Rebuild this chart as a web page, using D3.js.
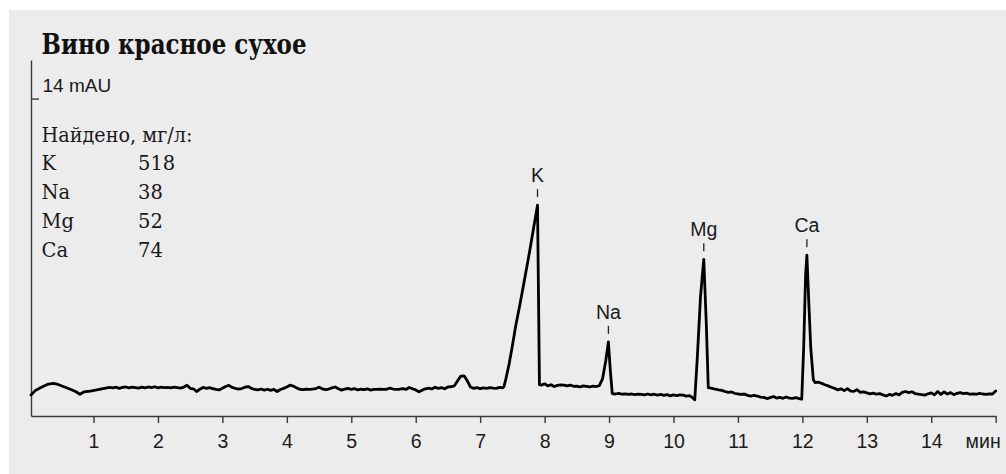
<!DOCTYPE html>
<html>
<head>
<meta charset="utf-8">
<script src="https://cdn.jsdelivr.net/npm/d3@7"></script>
<style>
  html, body { margin: 0; padding: 0; background: #ffffff; }
  svg { display: block; }
</style>
</head>
<body>
<svg id="chart" width="1006" height="474"></svg>
<script>
// ---- Data ----
const chartTitle = "Вино красное сухое";
const yUnitLabel = "14 mAU";
const yMarkValue = 14;              // mAU
const xUnitLabel = "мин";
const xTickValues = [1, 2, 3, 4, 5, 6, 7, 8, 9, 10, 11, 12, 13, 14, 15];
const xTickLabels = ["1", "2", "3", "4", "5", "6", "7", "8", "9", "10", "11", "12", "13", "14", ""];

const tableHeader = "Найдено, мг/л:";
const foundElements = ["K", "Na", "Mg", "Ca"];
const foundValues = [518, 38, 52, 74];

const peakNames = ["K", "Na", "Mg", "Ca"];
const peakTimes = [7.89, 8.99, 10.47, 12.07];     // min
const peakHeights = [9.30, 3.27, 6.91, 7.09];     // mAU

// chromatogram trace: [time (min), signal (mAU)]
const chromatogram = [
  [0.03,0.93],[0.10,1.13],[0.20,1.28],[0.30,1.41],[0.38,1.44],[0.45,1.39],[0.55,1.28],[0.65,1.17],
  [0.72,1.08],[0.79,0.96],[0.85,1.06],[0.95,1.10],[1.05,1.15],[1.15,1.21],[1.25,1.26],
  [1.30,1.24],[1.35,1.27],[1.40,1.22],[1.45,1.26],[1.50,1.28],[1.55,1.24],[1.60,1.27],[1.65,1.25],
  [1.70,1.23],[1.75,1.27],[1.80,1.24],[1.85,1.28],[1.90,1.25],[1.95,1.29],[2.00,1.24],[2.05,1.27],
  [2.10,1.25],[2.15,1.26],[2.20,1.24],[2.25,1.27],[2.30,1.25],[2.35,1.23],[2.40,1.27],[2.45,1.36],
  [2.50,1.22],[2.55,1.20],[2.60,1.08],[2.65,1.18],[2.70,1.26],[2.75,1.22],[2.80,1.25],[2.85,1.21],
  [2.90,1.17],[2.95,1.15],[3.00,1.22],[3.05,1.30],[3.10,1.35],[3.15,1.26],[3.20,1.22],[3.25,1.19],
  [3.30,1.21],[3.35,1.27],[3.40,1.30],[3.45,1.22],[3.50,1.17],[3.55,1.15],[3.60,1.19],[3.65,1.14],
  [3.70,1.18],[3.75,1.13],[3.80,1.17],[3.85,1.08],[3.90,1.17],[3.95,1.22],[4.00,1.28],[4.05,1.36],
  [4.10,1.32],[4.15,1.24],[4.20,1.18],[4.25,1.16],[4.30,1.18],[4.35,1.17],[4.40,1.19],[4.45,1.21],
  [4.50,1.27],[4.55,1.20],[4.60,1.16],[4.65,1.19],[4.70,1.24],[4.75,1.28],[4.80,1.20],[4.85,1.14],
  [4.90,1.19],[4.95,1.22],[5.00,1.17],[5.05,1.21],[5.10,1.15],[5.15,1.18],[5.20,1.16],[5.25,1.20],
  [5.30,1.14],[5.35,1.17],[5.40,1.17],[5.45,1.18],[5.50,1.17],[5.55,1.18],[5.60,1.23],[5.65,1.19],
  [5.70,1.17],[5.75,1.18],[5.80,1.21],[5.85,1.17],[5.90,1.26],[5.95,1.20],[6.00,1.15],[6.05,1.07],
  [6.10,1.14],[6.15,1.20],[6.20,1.23],[6.25,1.19],[6.30,1.27],[6.35,1.22],[6.40,1.25],[6.45,1.20],
  [6.50,1.28],[6.55,1.29],[6.60,1.33],[6.65,1.55],[6.70,1.76],[6.75,1.77],[6.80,1.55],[6.85,1.28],
  [6.90,1.22],[6.95,1.25],[7.00,1.21],[7.05,1.24],[7.10,1.22],[7.15,1.25],[7.20,1.23],[7.25,1.22],
  [7.30,1.26],[7.35,1.24],[7.37,1.30],[7.40,1.65],[7.45,2.30],[7.50,3.10],[7.55,3.95],[7.62,4.96],
  [7.70,6.20],[7.77,7.30],[7.83,8.30],[7.89,9.30],[7.92,1.38],[7.95,1.36],[8.00,1.42],[8.05,1.33],
  [8.10,1.38],[8.15,1.30],[8.20,1.35],[8.25,1.37],[8.30,1.36],[8.35,1.33],[8.40,1.36],[8.45,1.31],
  [8.50,1.32],[8.55,1.28],[8.60,1.33],[8.65,1.31],[8.70,1.28],[8.75,1.32],[8.80,1.30],[8.85,1.34],
  [8.90,1.65],[8.95,2.45],[8.99,3.27],[9.02,2.00],[9.05,0.99],[9.10,0.97],[9.15,1.00],[9.20,0.96],
  [9.25,0.98],[9.30,0.95],[9.35,0.97],[9.40,0.94],[9.45,0.96],[9.50,0.95],[9.55,0.93],[9.60,0.97],
  [9.65,0.93],[9.70,0.96],[9.75,0.92],[9.80,0.95],[9.85,0.91],[9.90,0.94],[9.95,0.89],[10.00,0.93],
  [10.05,0.90],[10.10,0.93],[10.15,0.92],[10.20,0.88],[10.25,0.90],[10.30,0.80],[10.33,0.72],[10.37,2.60],
  [10.42,5.30],[10.47,6.91],[10.51,4.00],[10.54,1.25],[10.60,1.22],[10.65,1.18],[10.70,1.15],[10.75,1.13],
  [10.80,1.08],[10.85,1.04],[10.90,1.06],[10.95,1.00],[11.00,0.97],[11.05,0.95],[11.10,0.97],[11.15,0.91],
  [11.20,0.88],[11.25,0.91],[11.30,0.88],[11.35,0.83],[11.40,0.82],[11.45,0.77],[11.50,0.81],[11.55,0.86],
  [11.60,0.79],[11.65,0.82],[11.70,0.78],[11.75,0.84],[11.80,0.79],[11.85,0.78],[11.90,0.81],[11.95,0.77],
  [11.99,0.74],[12.02,3.00],[12.05,6.20],[12.07,7.09],[12.10,5.00],[12.13,3.00],[12.17,1.60],[12.20,1.47],
  [12.25,1.49],[12.30,1.44],[12.35,1.38],[12.40,1.33],[12.45,1.27],[12.50,1.22],[12.55,1.15],[12.60,1.20],
  [12.65,1.12],[12.70,1.21],[12.75,1.10],[12.80,1.09],[12.85,1.16],[12.90,1.04],[12.95,1.06],[13.00,1.02],
  [13.05,0.98],[13.10,1.01],[13.15,0.96],[13.20,0.99],[13.25,0.93],[13.30,0.88],[13.35,0.95],[13.40,0.91],
  [13.45,0.99],[13.50,0.93],[13.55,1.04],[13.60,1.08],[13.65,1.03],[13.70,1.07],[13.75,0.99],[13.80,0.96],
  [13.85,0.94],[13.90,0.92],[13.95,0.98],[14.00,1.02],[14.05,0.93],[14.10,1.08],[14.15,0.95],[14.20,1.06],
  [14.25,0.97],[14.30,1.03],[14.35,0.94],[14.40,1.00],[14.45,1.03],[14.50,0.99],[14.55,1.01],[14.60,0.96],
  [14.65,0.98],[14.70,0.96],[14.75,1.00],[14.80,0.97],[14.85,0.95],[14.90,0.98],[14.95,0.97],[15.00,1.10]
];

// ---- Drawing ----
const svg = d3.select("#chart");
const W = 1006, H = 474;

svg.append("rect")
  .attr("x", 9).attr("y", 10)
  .attr("width", W - 9).attr("height", H - 10)
  .attr("fill", "#ececec");

const x = d3.scaleLinear().domain([0.03, 15]).range([31, 995.7]);
const y = d3.scaleLinear().domain([0, 15.7]).range([416, 60]);

const axisColor = "#3a3a3a";
const sans = "'Liberation Sans', Arial, Helvetica, sans-serif";
const serif = "'DejaVu Serif', 'Liberation Serif', serif";

// title
svg.append("text")
  .attr("x", 41.5).attr("y", 53.5)
  .attr("font-family", serif)
  .attr("font-weight", "bold")
  .attr("font-size", 27)
  .attr("fill", "#111")
  .attr("textLength", 265)
  .attr("lengthAdjust", "spacingAndGlyphs")
  .text(chartTitle);

// y axis (vertical line + single mark)
const yAxis = d3.axisRight(y).tickValues([yMarkValue]).tickSize(8).tickSizeOuter(0).tickFormat("");
const gy = svg.append("g").attr("transform", "translate(31,0)").call(yAxis);
gy.select(".domain").attr("stroke", axisColor).attr("stroke-width", 1.4);
gy.selectAll(".tick line").attr("stroke", axisColor).attr("stroke-width", 1.4);

svg.append("text")
  .attr("x", 42.5).attr("y", y(yMarkValue) - 7)
  .attr("font-family", sans).attr("font-size", 19)
  .attr("fill", "#1a1a1a")
  .text(yUnitLabel);

// x axis
const xAxis = d3.axisBottom(x).tickValues(xTickValues).tickSize(7).tickSizeOuter(0)
  .tickFormat((d, i) => xTickLabels[i]);
const gx = svg.append("g").attr("transform", "translate(0,416)").call(xAxis);
gx.select(".domain").attr("stroke", axisColor).attr("stroke-width", 1.6);
gx.selectAll(".tick line").attr("stroke", axisColor).attr("stroke-width", 1.4);
gx.selectAll(".tick text")
  .attr("font-family", sans).attr("font-size", 19.5)
  .attr("fill", "#1a1a1a")
  .attr("y", 0).attr("dy", 0)
  .attr("transform", "translate(0,32)");

svg.append("text")
  .attr("x", x(15) + 5).attr("y", 416 + 32)
  .attr("text-anchor", "end")
  .attr("font-family", sans).attr("font-size", 19.5)
  .attr("fill", "#1a1a1a")
  .text(xUnitLabel);

// table of found concentrations
svg.append("text")
  .attr("x", 41.5).attr("y", 141.5)
  .attr("font-family", serif).attr("font-size", 19.5)
  .attr("fill", "#1a1a1a")
  .attr("textLength", 151)
  .attr("lengthAdjust", "spacingAndGlyphs")
  .text(tableHeader);

const rows = svg.append("g");
foundElements.forEach((el, i) => {
  const by = 170 + i * 28.9;
  rows.append("text")
    .attr("x", 41.5).attr("y", by)
    .attr("font-family", serif).attr("font-size", 19.5)
    .attr("fill", "#1a1a1a")
    .text(el);
  rows.append("text")
    .attr("x", 138).attr("y", by)
    .attr("font-family", serif).attr("font-size", 19.5)
    .attr("fill", "#1a1a1a")
    .text(foundValues[i]);
});

// chromatogram line
const line = d3.line()
  .x(d => x(d[0]))
  .y(d => y(d[1]));

svg.append("path")
  .datum(chromatogram)
  .attr("d", line)
  .attr("fill", "none")
  .attr("stroke", "#000")
  .attr("stroke-width", 2.8)
  .attr("stroke-linejoin", "round")
  .attr("stroke-linecap", "round");

// peak labels
const peaks = svg.append("g");
peakNames.forEach((name, i) => {
  const px = x(peakTimes[i]);
  const py = y(peakHeights[i]);
  peaks.append("line")
    .attr("x1", px).attr("x2", px)
    .attr("y1", py - 16).attr("y2", py - 8)
    .attr("stroke", "#222").attr("stroke-width", 1.3);
  peaks.append("text")
    .attr("x", px).attr("y", py - 23)
    .attr("text-anchor", "middle")
    .attr("font-family", sans).attr("font-size", 19.5)
    .attr("fill", "#1a1a1a")
    .text(name);
});
</script>
</body>
</html>
